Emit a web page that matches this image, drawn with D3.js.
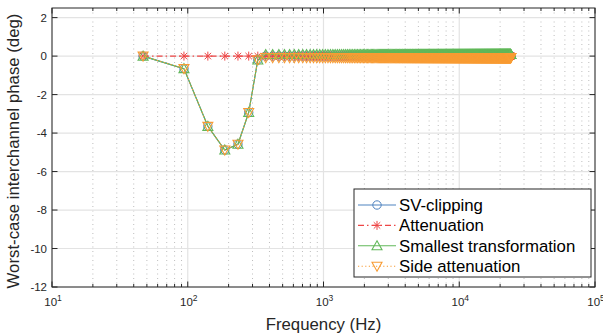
<!DOCTYPE html>
<html><head><meta charset="utf-8">
<script src="https://cdn.jsdelivr.net/npm/d3@7"></script>
<style>
body{margin:0;background:#fff}
svg{display:block;font-family:"Liberation Sans",Arial,Helvetica,sans-serif}
</style>
</head><body>
<svg id="chart" width="603" height="333"></svg>
<script>
// Frequency grid: 512 FFT bins of 46.875 Hz (48 kHz / 1024)
const binCount = 512;
const binWidth = 46.875;
const frequencies = d3.range(1, binCount + 1).map(k => k * binWidth);

// Worst-case interchannel phase (deg) for the first bins; the remaining bins sit on a flat plateau
const svClippingLow        = [0, -0.65, -3.65, -4.88, -4.58, -2.93, -0.2];
const attenuationLow       = [0, 0, 0, 0, 0, 0, 0];
const smallestTransformLow = [0, -0.65, -3.65, -4.88, -4.58, -2.93, -0.2];
const sideAttenuationLow   = [0, -0.65, -3.65, -4.88, -4.58, -2.93, -0.2];
const plateauValues = [0, 0, 0.08, -0.08];

const seriesNames = ["SV-clipping", "Attenuation", "Smallest transformation", "Side attenuation"];
const yTicks = [-12, -10, -8, -6, -4, -2, 0, 2];
const xDecades = [1, 2, 3, 4, 5];

const lowValues = [svClippingLow, attenuationLow, smallestTransformLow, sideAttenuationLow];
const styles = [
  {color: "#4f83c0", dash: null,          marker: "circle"},
  {color: "#ee4646", dash: "6,3,1.5,3",   marker: "asterisk"},
  {color: "#62b85a", dash: null,          marker: "up"},
  {color: "#f89c34", dash: "1.2,2.4",     marker: "down"}
];

const series = seriesNames.map((name, i) => ({
  name,
  style: styles[i],
  points: frequencies.map((f, k) => ({
    f,
    v: k < lowValues[i].length ? lowValues[i][k] : plateauValues[i]
  }))
}));

const pLeft = 52, pRight = 595, pTop = 8, pBottom = 287;

const svg = d3.select("#chart");
const x = d3.scaleLog().domain([10, 1e5]).range([pLeft, pRight]);
const y = d3.scaleLinear().domain([-12, 2.5]).range([pBottom, pTop]);

// Minor decade positions 2..9 × 10^n
const minorX = [];
for (let d = 1; d < 5; d++) for (let m = 2; m <= 9; m++) minorX.push(m * Math.pow(10, d));
const majorX = xDecades.map(d => Math.pow(10, d));

// Grid
const grid = svg.append("g");
grid.selectAll(".minor").data(minorX).join("line")
  .attr("x1", d => x(d)).attr("x2", d => x(d))
  .attr("y1", pTop).attr("y2", pBottom)
  .attr("stroke", "#bdbdbd").attr("stroke-width", 1)
  .attr("stroke-dasharray", "1,3.5");
grid.selectAll(".majx").data(majorX).join("line")
  .attr("x1", d => x(d)).attr("x2", d => x(d))
  .attr("y1", pTop).attr("y2", pBottom)
  .attr("stroke", "#e3e3e3").attr("stroke-width", 1.2);
grid.selectAll(".majy").data(yTicks).join("line")
  .attr("x1", pLeft).attr("x2", pRight)
  .attr("y1", d => y(d)).attr("y2", d => y(d))
  .attr("stroke", "#e3e3e3").attr("stroke-width", 1.2);

// Markers
const MS = 10;
function drawMarker(g, type, color) {
  const h = MS / 2;
  if (type === "circle") {
    g.append("circle").attr("r", h - 0.8).attr("fill", "none").attr("stroke", color).attr("stroke-width", 1);
  } else if (type === "asterisk") {
    const a = h - 0.5, b = a * 0.72;
    g.append("path").attr("d", `M${-a},0H${a}M0,${-a}V${a}M${-b},${-b}L${b},${b}M${-b},${b}L${b},${-b}`)
      .attr("stroke", color).attr("stroke-width", 1).attr("fill", "none");
  } else if (type === "up") {
    g.append("path").attr("d", `M0,${-h}L${h},${h * 0.8}L${-h},${h * 0.8}Z`)
      .attr("fill", "none").attr("stroke", color).attr("stroke-width", 1.1);
  } else if (type === "down") {
    g.append("path").attr("d", `M0,${h}L${h},${-h * 0.8}L${-h},${-h * 0.8}Z`)
      .attr("fill", "none").attr("stroke", color).attr("stroke-width", 1.1);
  }
}

const line = d3.line().x(d => x(d.f)).y(d => y(d.v));
const plot = svg.append("g");
series.forEach(s => {
  const g = plot.append("g");
  g.append("path").datum(s.points).attr("d", line)
    .attr("fill", "none").attr("stroke", s.style.color).attr("stroke-width", 1.1)
    .attr("stroke-dasharray", s.style.dash);
  g.selectAll("g.m").data(s.points).join("g")
    .attr("transform", d => `translate(${x(d.f)},${y(d.v)})`)
    .each(function () { drawMarker(d3.select(this), s.style.marker, s.style.color); });
});

// Axes box and inward ticks
const ax = svg.append("g").attr("stroke", "#262626").attr("stroke-width", 1).attr("fill", "none");
ax.append("rect").attr("x", pLeft).attr("y", pTop).attr("width", pRight - pLeft).attr("height", pBottom - pTop);
minorX.forEach(f => {
  ax.append("line").attr("x1", x(f)).attr("x2", x(f)).attr("y1", pBottom).attr("y2", pBottom - 3);
  ax.append("line").attr("x1", x(f)).attr("x2", x(f)).attr("y1", pTop).attr("y2", pTop + 3);
});
majorX.forEach(f => {
  ax.append("line").attr("x1", x(f)).attr("x2", x(f)).attr("y1", pBottom).attr("y2", pBottom - 5.5);
  ax.append("line").attr("x1", x(f)).attr("x2", x(f)).attr("y1", pTop).attr("y2", pTop + 5.5);
});
yTicks.forEach(v => {
  ax.append("line").attr("x1", pLeft).attr("x2", pLeft + 5.5).attr("y1", y(v)).attr("y2", y(v));
  ax.append("line").attr("x1", pRight).attr("x2", pRight - 5.5).attr("y1", y(v)).attr("y2", y(v));
});

// Tick labels
const tl = svg.append("g").attr("fill", "#262626").attr("font-size", 11.5);
yTicks.forEach(v => {
  tl.append("text").attr("x", pLeft - 5).attr("y", y(v) + 4).attr("text-anchor", "end").text(v);
});
xDecades.forEach(d => {
  const t = tl.append("text").attr("x", x(Math.pow(10, d)) + 1).attr("y", 306).attr("text-anchor", "middle");
  t.append("tspan").text("10");
  t.append("tspan").attr("font-size", 8.5).attr("dy", -5).text(d);
});

// Axis titles
svg.append("text").attr("x", (pLeft + pRight) / 2).attr("y", 330).attr("text-anchor", "middle")
  .attr("font-size", 16.8).attr("fill", "#262626").text("Frequency (Hz)");
svg.append("text").attr("transform", `translate(19,151) rotate(-90)`)
  .attr("text-anchor", "middle").attr("font-size", 16.8).attr("fill", "#262626")
  .text("Worst-case interchannel phase (deg)");

// Legend
const lg = svg.append("g").attr("transform", "translate(354,189)");
lg.append("rect").attr("width", 237).attr("height", 88).attr("fill", "#fff")
  .attr("stroke", "#262626").attr("stroke-width", 1);
series.forEach((s, i) => {
  const ry = 16 + i * 20.4;
  lg.append("line").attr("x1", 4).attr("x2", 42).attr("y1", ry).attr("y2", ry)
    .attr("stroke", s.style.color).attr("stroke-width", 1.1).attr("stroke-dasharray", s.style.dash);
  drawMarker(lg.append("g").attr("transform", `translate(23,${ry})`), s.style.marker, s.style.color);
  lg.append("text").attr("x", 45).attr("y", ry + 6).attr("font-size", 16.8).attr("fill", "#000").text(s.name);
});
</script>
</body></html>
